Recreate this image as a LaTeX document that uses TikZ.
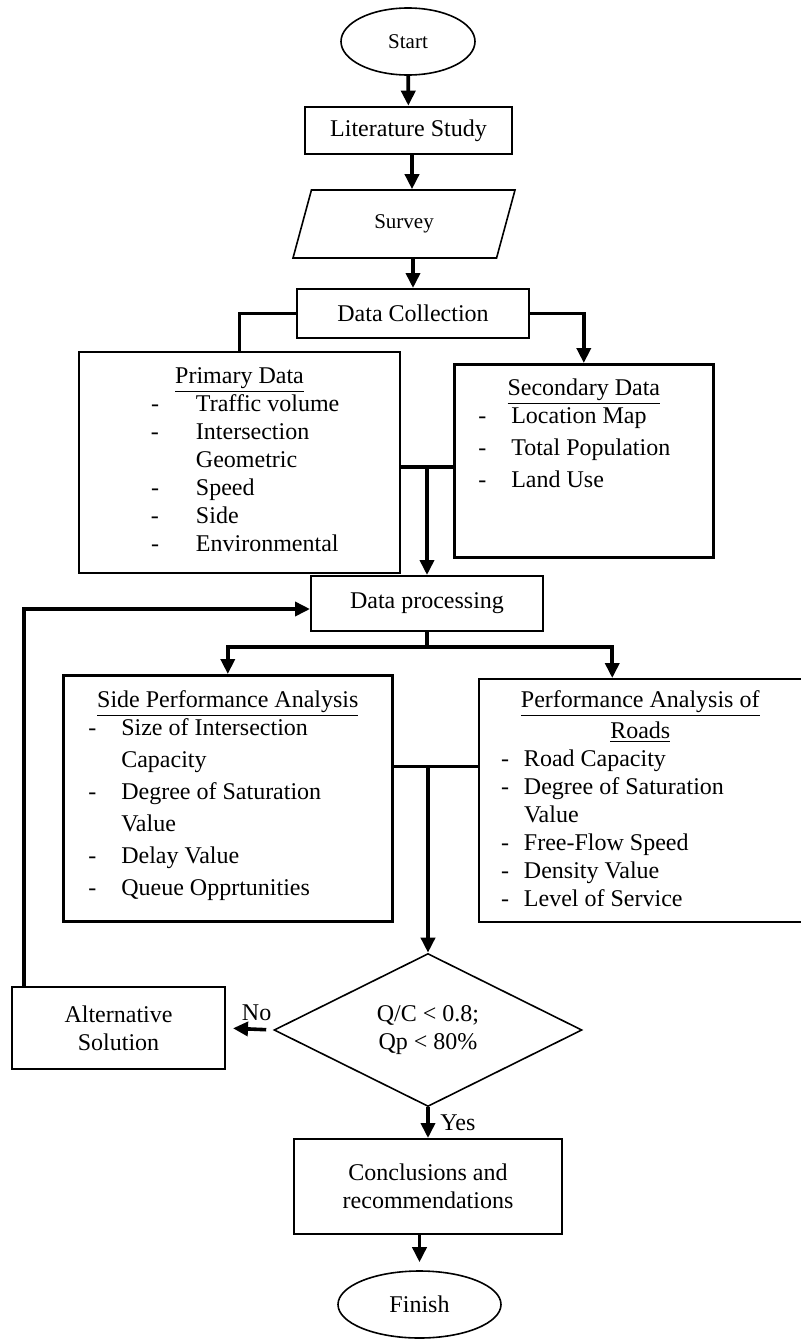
\documentclass[tikz,border=0pt]{standalone}
\usepackage{fontspec}
\setmainfont{Liberation Serif}
\usetikzlibrary{shapes.geometric,arrows.meta}

\newcommand{\itemdash}[1]{\makebox[#1][l]{-}}

\begin{document}
\begin{tikzpicture}[x=0.5pt,y=-0.5pt,
  every node/.style={font=\fontsize{12pt}{14pt}\selectfont},
  box/.style={draw,line width=1pt,align=center,inner sep=0pt},
  term/.style={draw,ellipse,line width=0.8pt,inner sep=0pt},
  listbox/.style={draw,line width=1pt,inner sep=0pt,anchor=north west},
  small/.style={font=\fontsize{10.5pt}{12.6pt}\selectfont},
  line/.style={line width=1.8pt},
  arrow/.style={line width=1.8pt,-{Triangle[width=7pt,length=7.5pt]}}]

% Frame
\useasboundingbox (0,0) rectangle (800,1339);

% Upper part
\node[term,small,minimum width=67pt,minimum height=33.5pt] (start) at (408,41.5) {Start};
\node[box,line width=1.3pt,minimum width=103.5pt,minimum height=23.5pt] (lit) at (408.5,130.5) {Literature Study};
\node[draw,trapezium,trapezium left angle=45,trapezium right angle=135,trapezium stretches body,
  minimum width=111pt,minimum height=34pt,line width=0.8pt,inner sep=0pt,small] (surv) at (404,224) {Survey};
\node[box,minimum width=116pt,minimum height=24.5pt] (dc) at (413,313.5) {Data Collection};

% Data boxes
\node[listbox] (prim) at (78,351) {\begin{minipage}[c][110.5pt][t]{160.5pt}
  \vspace*{6pt}
  {\centering\underline{Primary Data}\strut\par}
  \leftskip=36pt
  \itemdash{22.5pt}Traffic volume\\
  \itemdash{22.5pt}Intersection\\
  \hspace*{22.5pt}Geometric\\
  \itemdash{22.5pt}Speed\\
  \itemdash{22.5pt}Side\\
  \itemdash{22.5pt}Environmental
\end{minipage}};
\node[listbox,line width=1.3pt] (sec) at (453,363) {\begin{minipage}[c][96.5pt][t]{129.5pt}
  \vspace*{6pt}
  {\centering\underline{Secondary Data}\strut\par}
  \leftskip=12pt
  \itemdash{16.5pt}Location Map\\[2pt]
  \itemdash{16.5pt}Total Population\\[2pt]
  \itemdash{16.5pt}Land Use
\end{minipage}};

\node[box,minimum width=116pt,minimum height=27.5pt] (dp) at (427,603.5) {Data processing};

% Analysis boxes
\node[listbox,line width=1.3pt] (spa) at (62,674) {\begin{minipage}[c][123pt][t]{164.5pt}
  \vspace*{6.5pt}
  {\centering\underline{Side Performance Analysis}\strut\par}
  \leftskip=12.5pt
  \itemdash{16.5pt}Size of Intersection\\[2pt]
  \hspace*{16.5pt}Capacity\\[2pt]
  \itemdash{16.5pt}Degree of Saturation\\[2pt]
  \hspace*{16.5pt}Value\\[2pt]
  \itemdash{16.5pt}Delay Value\\[2pt]
  \itemdash{16.5pt}Queue Opprtunities
\end{minipage}};
\node[listbox] (par) at (478,678) {\begin{minipage}[c][121.5pt][t]{161.25pt}
  \vspace*{6pt}
  {\centering\underline{Performance Analysis of}\\\underline{Roads}\strut\par}
  \leftskip=11pt
  \itemdash{11.5pt}Road Capacity\\
  \itemdash{11.5pt}Degree of Saturation\\
  \hspace*{11.5pt}Value\\
  \itemdash{11.5pt}Free-Flow Speed\\
  \itemdash{11.5pt}Density Value\\
  \itemdash{11.5pt}Level of Service
\end{minipage}};

% Lower part
\node[draw,diamond,line width=0.8pt,inner sep=0pt,minimum width=154pt,minimum height=76.5pt,align=center] (dec) at (428,1030) {Q/C < 0.8;\\Qp < 80\%};
\node[box,minimum width=106.5pt,minimum height=41pt] (alt) at (118.5,1028) {Alternative\\Solution};
\node[box,minimum width=134pt,minimum height=47.5pt] (conc) at (428,1186.5) {Conclusions and\\recommendations};
\node[term,minimum width=81.5pt,minimum height=33.5pt] (fin) at (419.5,1304.5) {Finish};

% Connectors
\draw[arrow] (start) -- (lit);
\draw[arrow] ([xshift=1.75pt]lit.south) -- ([xshift=1.75pt]lit.south |- surv.north);
\draw[arrow] (dc.north |- surv.south) -- (dc.north);
\draw[line] (dc.west) -| (prim.north);
\draw[arrow] (dc.east) -| (sec.north);
\draw[line] ([yshift=-2.25pt]prim.east) -- ([yshift=-2.25pt]prim.east -| sec.west);
\draw[arrow] ([yshift=-2.25pt]prim.east -| dp.north) -- (dp.north);
\draw[line] (dp.south) -- ++(0,15) coordinate (split);
\draw[arrow] (split) -| (spa.north);
\draw[arrow] (split) -| ([xshift=-14pt]par.north);
\draw[line] ([yshift=16pt]spa.east) -- ([yshift=16pt]spa.east -| par.west);
\draw[arrow] ([yshift=16pt]spa.east -| dec.north) -- (dec.north);
\draw[arrow,shorten <=3.5pt,shorten >=3.5pt] (dec.west) -- (alt.east)
  node[midway,above,xshift=3.5pt] {No};
\draw[arrow] (alt.north west) ++(13,0) |- ([yshift=-2.75pt]dp.west);
\draw[arrow] (dec.south) -- (conc.north) node[midway,right,xshift=2pt] {Yes};
\draw[arrow] (fin.north |- conc.south) -- ([yshift=4pt]fin.north);
\end{tikzpicture}
\end{document}
